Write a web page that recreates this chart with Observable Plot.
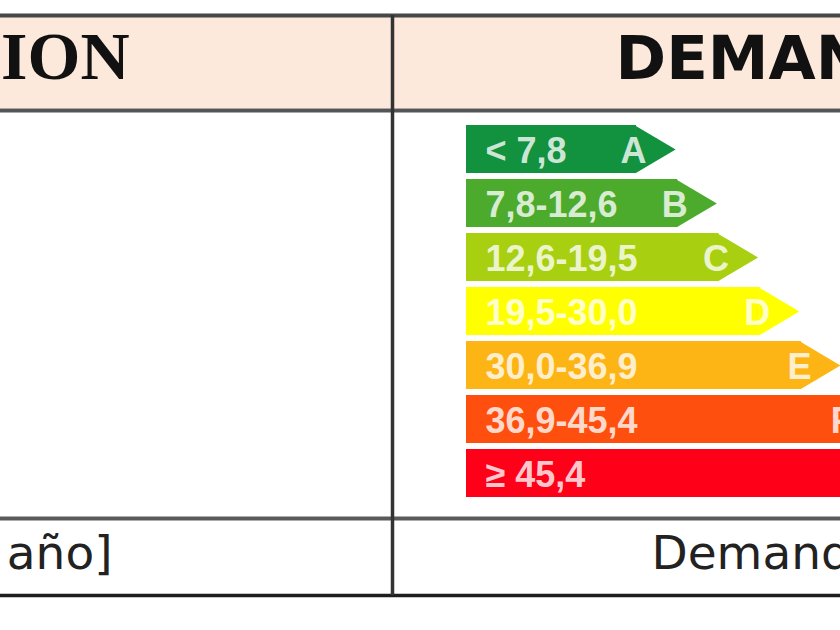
<!DOCTYPE html>
<html>
<head>
<meta charset="utf-8">
<script src="https://cdn.jsdelivr.net/npm/d3@7"></script>
<script src="https://cdn.jsdelivr.net/npm/@observablehq/plot@0.6"></script>
<style>
  html, body { margin: 0; padding: 0; background: #fff; overflow: hidden; }
  #wrap { position: relative; width: 840px; height: 630px; overflow: hidden; }
  #wrap svg { position: absolute; left: 0; top: 0; }
</style>
</head>
<body>
<div id="wrap"></div>
<script>
// ---- data ----
const classes = ["A", "B", "C", "D", "E", "F", "G"];
const ranges = ["< 7,8", "7,8-12,6", "12,6-19,5", "19,5-30,0", "30,0-36,9", "36,9-45,4", "≥ 45,4"];
const colors = ["#12913f", "#4caa2c", "#a9cf11", "#ffff00", "#fdb515", "#ff4f0f", "#ff0019"];
const headerTexts = ["ION", "DEMAN"];
const footerTexts = ["año]", "Demand"];

const bars = classes.map((c, i) => ({cls: c, range: ranges[i], color: colors[i], rank: i}));

// ---- layout constants (table frame, pixels) ----
const W = 840, H = 630;
const colX = 392;
const topLine = 15, headBottom = 110, footTop = 518, footBottom = 595;
const stem = -4.12; // common start of every class bar, in rank units

const wrap = document.getElementById("wrap");

// Table frame, header and footer
const frame = Plot.plot({
  width: W, height: H, margin: 0,
  x: {domain: [0, W], range: [0, W], axis: null},
  y: {domain: [0, H], range: [0, H], axis: null},
  style: {background: "white"},
  marks: [
    Plot.rect([0], {x1: 0, x2: W, y1: topLine + 2, y2: headBottom - 2, fill: "#fde9dc"}),
    Plot.ruleY([topLine], {stroke: "#474747", strokeWidth: 4}),
    Plot.ruleY([headBottom], {stroke: "#555", strokeWidth: 4}),
    Plot.ruleY([footTop], {stroke: "#5a5a5a", strokeWidth: 4}),
    Plot.ruleY([footBottom], {stroke: "#1e1e1e", strokeWidth: 3.5}),
    Plot.ruleX([colX], {y1: topLine, y2: footBottom, stroke: "#333", strokeWidth: 3.5}),
    Plot.text([headerTexts[0]], {x: 129, y: 78, text: d => d, textAnchor: "end", lineAnchor: "bottom",
      fontFamily: "Liberation Serif", fontWeight: "bold", fontSize: 68, fill: "#111"}),
    Plot.text([headerTexts[1]], {x: 615, y: 78, text: d => d, textAnchor: "start", lineAnchor: "bottom",
      fontFamily: "DejaVu Sans", fontWeight: "bold", fontSize: 61, fill: "#111"}),
    Plot.text([footerTexts[0]], {x: 112, y: 568, text: d => d, textAnchor: "end", lineAnchor: "bottom",
      fontFamily: "DejaVu Sans", fontSize: 47, fill: "#222"}),
    Plot.text([footerTexts[1]], {x: 651, y: 568, text: d => d, textAnchor: "start", lineAnchor: "bottom",
      fontFamily: "DejaVu Sans", fontSize: 47, fill: "#222"})
  ]
});
wrap.appendChild(frame);

// Arrow head symbol pointing right
const arrowHead = {
  draw(context, size) {
    const r = Math.sqrt(size / Math.PI);
    context.moveTo(-1, -r);
    context.lineTo(r * 1.64, 0);
    context.lineTo(-1, r);
    context.closePath();
  }
};

// Energy classes
const chart = Plot.plot({
  width: W, height: H, margin: 0,
  x: {domain: [stem, 6], range: [466, 883.5], axis: null},
  y: {type: "band", domain: classes, range: [125, 497], paddingInner: 0.12, paddingOuter: 0, axis: null},
  color: {type: "identity"},
  style: {background: "transparent"},
  marks: [
    Plot.barX(bars, {y: "cls", x1: () => stem, x2: "rank", fill: "color"}),
    Plot.dot(bars, {y: "cls", x: "rank", fill: "color", symbol: arrowHead, r: 23.85}),
    Plot.text(bars, {y: "cls", x: () => stem, text: "range", textAnchor: "start", dx: 19, dy: 1.5,
      fontFamily: "Liberation Sans", fontWeight: "bold", fontSize: 36, fill: "white", fillOpacity: 0.8}),
    Plot.text(bars, {y: "cls", x: "rank", text: "cls", textAnchor: "end", dx: 10, dy: 1.5,
      fontFamily: "Liberation Sans", fontWeight: "bold", fontSize: 36, fill: "white", fillOpacity: 0.8})
  ]
});
wrap.appendChild(chart);
</script>
</body>
</html>
